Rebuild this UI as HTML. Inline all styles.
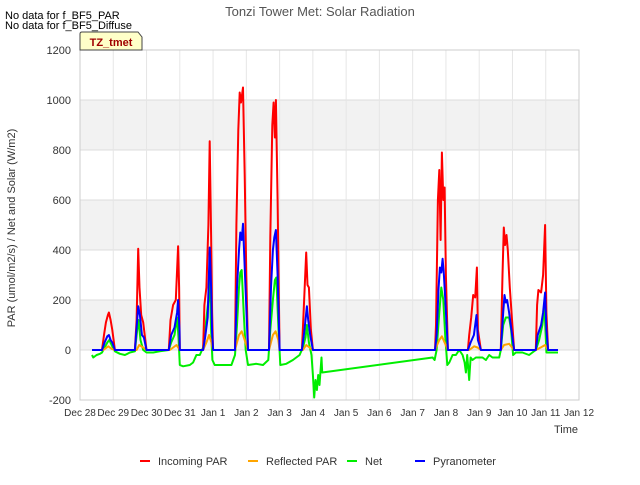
<!DOCTYPE html>
<html><head><meta charset="utf-8"><style>
body{margin:0;background:#fff;font-family:"Liberation Sans",sans-serif}
svg text{font-family:"Liberation Sans",sans-serif}
</style></head><body>
<svg id="c" width="640" height="480" xmlns="http://www.w3.org/2000/svg">
<rect width="640" height="480" fill="#fff"/>
<text x="320" y="16" text-anchor="middle" font-size="13" fill="#555">Tonzi Tower Met: Solar Radiation</text>
<text x="5" y="19" font-size="11" fill="#000">No data for f_BF5_PAR</text>
<text x="5" y="29" font-size="11" fill="#000">No data for f_BF5_Diffuse</text>
<g id="plot"></g>
<g id="series"></g>
<path d="M80,50 L80,34 Q80,32 82,32 L138,32 L142,37 L142,50 Z" fill="#ffffc8" stroke="#444" stroke-width="1"/>
<text x="111" y="46" text-anchor="middle" font-size="11" font-weight="bold" fill="#a00000">TZ_tmet</text>
<text x="15" y="228" transform="rotate(-90 15 228)" text-anchor="middle" font-size="11" fill="#333">PAR (umol/m2/s) / Net and Solar (W/m2)</text>
<text x="566" y="433" text-anchor="middle" font-size="11" fill="#333">Time</text>
<g id="legend"></g>
</svg>
<script>
const yTicks=[-200,0,200,400,600,800,1000,1200];
const xTickLabels=["Dec 28","Dec 29","Dec 30","Dec 31","Jan 1","Jan 2","Jan 3","Jan 4","Jan 5","Jan 6","Jan 7","Jan 8","Jan 9","Jan 10","Jan 11","Jan 12"];
const seriesNames=["Incoming PAR","Reflected PAR","Net","Pyranometer"];
const seriesColors=["#ff0000","#ffa500","#00ee00","#0000ff"];
const incomingPAR=[[0.36,0],[0.66,0],[0.72,60],[0.78,110],[0.84,140],[0.87,150],[0.92,120],[0.97,80],[1.05,0],[1.65,0],[1.7,120],[1.75,405],[1.79,250],[1.84,140],[1.9,110],[2.0,0],[2.67,0],[2.72,120],[2.8,180],[2.88,200],[2.95,415],[2.98,250],[3.0,0],[3.7,0],[3.74,180],[3.8,250],[3.86,500],[3.9,835],[3.94,460],[3.97,150],[4.0,0],[4.66,0],[4.7,500],[4.76,880],[4.8,1030],[4.84,990],[4.9,1050],[4.95,700],[5.0,300],[5.05,0],[5.68,0],[5.72,450],[5.78,900],[5.82,990],[5.86,850],[5.89,1000],[5.94,600],[5.98,200],[6.0,0],[6.67,0],[6.72,150],[6.8,390],[6.84,260],[6.88,250],[6.94,80],[7.0,0],[10.67,0],[10.7,100],[10.76,600],[10.8,720],[10.84,440],[10.88,790],[10.92,600],[10.96,650],[11.0,300],[11.06,0],[11.66,0],[11.7,60],[11.76,130],[11.82,220],[11.88,210],[11.93,330],[11.96,80],[12.05,0],[12.65,0],[12.7,300],[12.74,490],[12.78,420],[12.82,460],[12.86,400],[12.92,250],[13.05,0],[13.7,0],[13.74,180],[13.78,240],[13.86,230],[13.92,300],[13.98,500],[14.02,150],[14.07,0],[14.37,0]];
const reflectedPAR=[[0.36,0],[0.7,0],[0.85,15],[0.95,5],[1.05,0],[1.7,0],[1.78,20],[1.9,10],[2.0,0],[2.7,0],[2.9,20],[3.0,0],[3.7,0],[3.8,30],[3.88,60],[3.95,30],[4.0,0],[4.66,0],[4.78,60],[4.86,75],[4.95,40],[5.05,0],[5.68,0],[5.8,60],[5.88,75],[5.96,40],[6.0,0],[6.7,0],[6.8,20],[6.9,10],[7.0,0],[10.67,0],[10.8,40],[10.88,55],[10.96,30],[11.06,0],[11.7,0],[11.85,15],[11.95,10],[12.05,0],[12.65,0],[12.75,20],[12.9,25],[13.05,0],[13.7,0],[13.85,10],[13.98,20],[14.07,0],[14.37,0]];
const netRad=[[0.36,-20],[0.4,-30],[0.5,-20],[0.6,-15],[0.66,-10],[0.74,10],[0.82,30],[0.88,40],[0.95,20],[1.05,-5],[1.2,-15],[1.35,-20],[1.5,-10],[1.65,-5],[1.72,80],[1.76,120],[1.82,40],[1.9,0],[2.0,-10],[2.2,-10],[2.4,-5],[2.67,0],[2.74,30],[2.84,60],[2.92,130],[2.96,50],[3.0,-60],[3.1,-65],[3.3,-60],[3.4,-50],[3.5,-20],[3.6,-20],[3.7,10],[3.78,100],[3.86,200],[3.9,300],[3.94,80],[3.98,-40],[4.05,-60],[4.2,-60],[4.4,-60],[4.55,-60],[4.66,-20],[4.72,100],[4.78,250],[4.82,310],[4.86,320],[4.92,150],[4.98,0],[5.05,-60],[5.3,-55],[5.5,-60],[5.66,-40],[5.72,80],[5.8,200],[5.86,280],[5.9,290],[5.96,100],[6.02,-60],[6.2,-55],[6.4,-40],[6.6,-20],[6.7,10],[6.78,50],[6.82,100],[6.88,30],[6.96,-20],[7.0,-100],[7.04,-190],[7.08,-120],[7.12,-160],[7.16,-100],[7.2,-140],[7.26,-30],[7.28,-90],[10.6,-30],[10.66,-40],[10.72,0],[10.8,150],[10.86,250],[10.92,200],[10.98,50],[11.04,-60],[11.1,-50],[11.2,-20],[11.3,-20],[11.4,0],[11.5,-20],[11.56,-50],[11.6,-90],[11.64,-20],[11.7,-120],[11.74,-30],[11.8,-40],[11.9,-30],[12.0,-30],[12.1,-30],[12.2,-40],[12.3,-20],[12.4,-30],[12.5,-30],[12.6,-30],[12.65,0],[12.72,100],[12.8,130],[12.9,130],[12.96,80],[13.02,-20],[13.1,-10],[13.3,-10],[13.5,-20],[13.6,-10],[13.7,0],[13.8,40],[13.9,100],[13.96,180],[14.02,-10],[14.2,-10],[14.37,-10]];
const pyranometer=[[0.36,0],[0.66,0],[0.74,30],[0.82,55],[0.87,60],[0.92,40],[0.97,30],[1.05,0],[1.65,0],[1.72,120],[1.75,175],[1.8,140],[1.86,60],[1.92,50],[2.0,0],[2.67,0],[2.74,60],[2.84,90],[2.92,150],[2.95,200],[2.99,80],[3.0,0],[3.7,0],[3.76,50],[3.84,130],[3.9,410],[3.94,250],[3.97,70],[4.0,0],[4.66,0],[4.72,250],[4.78,400],[4.82,470],[4.86,440],[4.9,505],[4.96,300],[5.05,0],[5.68,0],[5.74,250],[5.8,400],[5.84,450],[5.89,480],[5.94,300],[6.0,0],[6.67,0],[6.74,70],[6.82,175],[6.86,120],[6.92,60],[7.0,0],[10.67,0],[10.72,60],[10.78,250],[10.82,330],[10.86,310],[10.9,365],[10.94,300],[10.98,200],[11.06,0],[11.66,0],[11.74,30],[11.84,60],[11.92,140],[11.96,40],[12.05,0],[12.65,0],[12.72,150],[12.76,220],[12.8,190],[12.84,200],[12.9,150],[13.05,0],[13.7,0],[13.76,60],[13.86,100],[13.92,150],[13.98,230],[14.02,80],[14.07,0],[14.37,0]];

const NS="http://www.w3.org/2000/svg";
const L=80,R=579,T=50,B=400,yMin=-200,yMax=1200,xMax=15;
function X(t){return L+t*(R-L)/xMax;}
function Y(v){return B-(v-yMin)*(B-T)/(yMax-yMin);}
function mk(tag,attrs,parent){const e=document.createElementNS(NS,tag);for(const k in attrs)e.setAttribute(k,attrs[k]);parent.appendChild(e);return e;}
const plot=document.getElementById('plot');
for(let i=0;i<yTicks.length-1;i++){
  const r=mk('rect',{x:L,y:Y(yTicks[i+1]),width:R-L,height:Y(yTicks[i])-Y(yTicks[i+1]),fill:(i%2===1)?'#f2f2f2':'#ffffff'},plot);
  
  
}
yTicks.forEach(v=>{
  const g=mk('line',{x1:L,x2:R,y1:Y(v),y2:Y(v),stroke:'#dcdcdc','stroke-width':1},plot);
  
  
  const t=mk('text',{x:71,y:Y(v)+4,'text-anchor':'end','font-size':11,fill:'#333'},plot);
  t.textContent=v;
  
  
});
xTickLabels.forEach((s,i)=>{
  const g=mk('line',{x1:X(i),x2:X(i),y1:T,y2:B,stroke:'#e6e6e6','stroke-width':1},plot);
  
  
  const t=mk('text',{x:X(i),y:416,'text-anchor':'middle','font-size':10,fill:'#333'},plot);
  t.textContent=s;
  
  
});
const frame=mk('rect',{x:L,y:T,width:R-L,height:B-T,fill:'none',stroke:'#ccc'},plot);


const sg=document.getElementById('series');
const order=[[netRad,2,'net-line'],[reflectedPAR,1,'reflected-par-line'],[incomingPAR,0,'incoming-par-line'],[pyranometer,3,'pyranometer-line']];
order.forEach(([d,ci,nm])=>{
  const p=mk('polyline',{points:d.map(q=>X(q[0]).toFixed(1)+','+Y(q[1]).toFixed(1)).join(' '),fill:'none',stroke:seriesColors[ci],'stroke-width':2,'stroke-linejoin':'round'},sg);
  
  
});
const lg=document.getElementById('legend');
const lx=[140,248,347,415];
seriesNames.forEach((n,i)=>{
  const l=mk('line',{x1:lx[i],x2:lx[i]+10,y1:461,y2:461,stroke:seriesColors[i],'stroke-width':2},lg);
  
  
  const t=mk('text',{x:lx[i]+18,y:465,'font-size':11,fill:'#333'},lg);
  t.textContent=n;
  
  
});
</script>
</body></html>
